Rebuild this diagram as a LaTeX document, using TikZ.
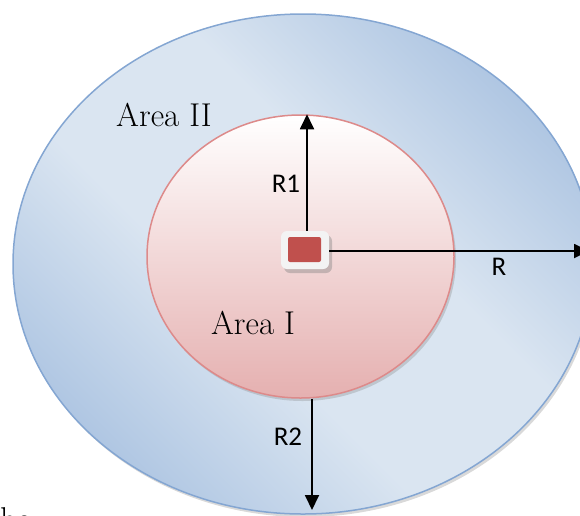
\documentclass[tikz,border=0pt]{standalone}
\usepackage{fontspec}
\newfontfamily\labelfont{Carlito}
\usetikzlibrary{shapes.geometric,shadows,arrows.meta}
\definecolor{bdark}{RGB}{168,193,224}
\definecolor{blight}{RGB}{218,229,241}
\definecolor{bborder}{RGB}{132,166,210}
\definecolor{pbot}{RGB}{229,176,176}
\definecolor{pborder}{RGB}{221,138,138}
\definecolor{srcred}{RGB}{192,80,77}
\definecolor{boxwhite}{RGB}{243,243,243}
\pgfdeclarehorizontalshading{bluediag}{100bp}{color(0bp)=(bdark); color(22bp)=(bdark); color(42bp)=(blight); color(58bp)=(blight); color(78bp)=(bdark); color(100bp)=(bdark)}
\begin{document}
\begin{tikzpicture}[x=1pt,y=-1pt,
  arr/.style={line width=1.8pt, -{Triangle[length=15pt,width=14pt]}},
  lbl/.style={font=\labelfont\fontsize{27}{32}\selectfont, inner sep=0pt},
  area/.style={font=\fontsize{33}{38}\selectfont, inner sep=0pt},
  disc/.style={ellipse, inner sep=0pt, line width=1.5pt}]
\useasboundingbox (0,0) rectangle (580,515);
\clip (0,0) rectangle (580,515);
\node[disc, minimum width=580pt, minimum height=500pt, draw=bborder,
      shading=bluediag, shading angle=45,
      drop shadow={opacity=0.3, shadow xshift=2pt, shadow yshift=-3pt}] (outer) at (303,264) {};
\node[disc, minimum width=307pt, minimum height=283pt, draw=pborder,
      top color=white, bottom color=pbot,
      drop shadow={opacity=0.3, shadow xshift=2pt, shadow yshift=-3pt}] (inner) at (300.5,256.5) {};
\node[fill=boxwhite, rounded corners=6pt, minimum width=48pt, minimum height=38pt, inner sep=0pt,
      drop shadow={opacity=0.4, shadow xshift=3pt, shadow yshift=-4pt}] (box) at (305,250) {};
\node[fill=srcred, rounded corners=2pt, minimum width=33pt, minimum height=25pt, inner sep=0pt] (core) at (304.5,249.5) {};
\coordinate (rend) at (589,251);
\coordinate (r2s) at (312,399);
\coordinate (r2e) at (312,510);
\draw[arr] ([xshift=2pt]box.north) -- ([xshift=2pt]box.north |- inner.north);
\draw[arr] (box.east |- rend) -- (rend);
\draw[arr] (r2s) -- (r2e);
\node[lbl] (lR1) at (286,184) {R1};
\node[lbl] (lR) at (499,267) {R};
\node[lbl] (lR2) at (288,437) {R2};
\node[area] (a2) at (164,115) {Area II};
\node[area] (a1) at (253,323) {Area I};
\node[area, anchor=base west] (frag) at (0,530) {he};
\end{tikzpicture}
\end{document}
